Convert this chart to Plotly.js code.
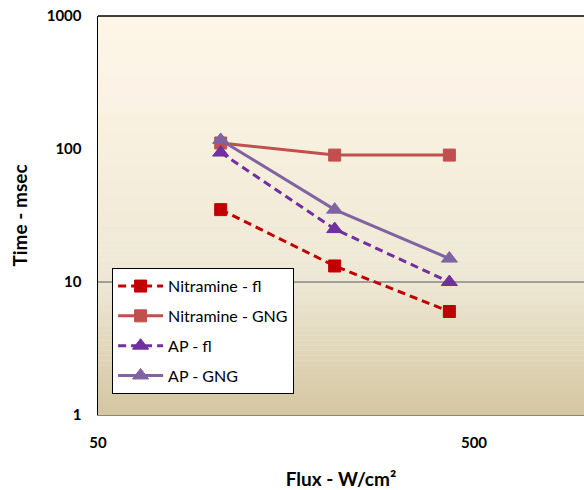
<!DOCTYPE html>
<html>
<head>
<meta charset="utf-8">
<script src="https://cdn.plot.ly/plotly-3.0.1.min.js"></script>
<style>html,body{margin:0;padding:0;background:#fff;}#chart{width:584px;height:490px;}</style>
</head>
<body>
<div id="chart"></div>
<script>
// Data
const flux = [106, 213, 430];
const nitramineFl = [35, 13.2, 6.0];
const nitramineGNG = [111, 90, 90];
const apFl = [94, 25, 10];
const apGNG = [117, 35, 15];
const seriesNames = ["Nitramine - fl", "Nitramine - GNG", "AP - fl", "AP - GNG"];
const yTicks = [1, 10, 100, 1000];
const xTicks = [50, 500];

const FONT = "Lato, 'Open Sans', sans-serif";

function tr(name, y, color, dash, symbol, size) {
  return {
    x: flux, y: y, name: name, legendgroup: name,
    type: "scatter", mode: "lines+markers",
    line: {color: color, width: 3, dash: dash},
    marker: {color: color, symbol: symbol, size: size, line: {color: color, width: 1}}
  };
}

const traces = [
  tr(seriesNames[0], nitramineFl, "#c00000", "8px,5px", "square", 12),
  tr(seriesNames[1], nitramineGNG, "#c0504d", "solid", "square", 12),
  tr(seriesNames[2], apFl, "#7030a0", "8px,5px", "triangle-up", 14),
  tr(seriesNames[3], apGNG, "#8064a2", "solid", "triangle-up", 14)
];

// gradient background bands
const stops = [
  [0.00, [253, 246, 230]],
  [0.23, [251, 242, 230]],
  [0.235, [249, 242, 224]],
  [0.665, [237, 231, 212]],
  [1.00, [212, 198, 160]]
];
function colorAt(t) {
  for (let i = 0; i < stops.length - 1; i++) {
    const a = stops[i], b = stops[i + 1];
    if (t >= a[0] && t <= b[0]) {
      const f = (t - a[0]) / (b[0] - a[0] || 1);
      const c = a[1].map((v, k) => Math.round(v + (b[1][k] - v) * f));
      return "rgb(" + c.join(",") + ")";
    }
  }
  return "rgb(" + stops[stops.length - 1][1].join(",") + ")";
}
const shapes = [];
const N = 80;
for (let i = 0; i < N; i++) {
  const t = (i + 0.5) / N;
  shapes.push({type: "rect", xref: "paper", yref: "paper", layer: "below",
    x0: 0, x1: 1, y0: 1 - (i + 1) / N - 0.001, y1: 1 - i / N,
    fillcolor: colorAt(t), line: {width: 0}});
}
// gridline at 10 and top border
shapes.push({type: "line", xref: "paper", yref: "y", x0: 0, x1: 1, y0: 10, y1: 10,
  line: {color: "#868686", width: 1.3}, layer: "below"});
shapes.push({type: "line", xref: "paper", yref: "paper", x0: 0, x1: 1, y0: 1, y1: 1,
  line: {color: "#000", width: 1.5}});

const layout = {
  width: 584, height: 490,
  margin: {l: 98, r: 0, t: 16, b: 75},
  paper_bgcolor: "#ffffff",
  plot_bgcolor: "rgba(0,0,0,0)",
  font: {family: FONT, color: "#000"},
  showlegend: true,
  legend: {
    x: 0.029, y: 0.368, xanchor: "left", yanchor: "top",
    bgcolor: "#ffffff", bordercolor: "#000", borderwidth: 1,
    font: {family: FONT, size: 16, color: "#000"},
    tracegroupgap: 6, itemwidth: 45
  },
  xaxis: {
    type: "log",
    range: [Math.log10(50), Math.log10(50) + 486 / 376],
    tickvals: xTicks, ticktext: xTicks.map(String),
    tickfont: {family: FONT, size: 15, color: "#000", weight: "bold"},
    ticks: "", showgrid: false, zeroline: false,
    showline: true, linecolor: "#868686", linewidth: 1.3,
    ticklabelstandoff: 14,
    title: {text: "<b>Flux - W/cm²</b>", font: {family: FONT, size: 19, color: "#000"}, standoff: 22}
  },
  yaxis: {
    type: "log",
    range: [0, 3],
    tickvals: yTicks, ticktext: yTicks.map(String),
    tickfont: {family: FONT, size: 15, color: "#000", weight: "bold"},
    ticks: "", showgrid: false, zeroline: false,
    showline: true, linecolor: "#000", linewidth: 1.5,
    ticklabelstandoff: 12,
    title: {text: "<b>Time - msec</b>", font: {family: FONT, size: 19, color: "#000"}, standoff: 14}
  },
  shapes: shapes
};

Plotly.newPlot("chart", traces, layout, {displayModeBar: false, staticPlot: true});
</script>
</body>
</html>
